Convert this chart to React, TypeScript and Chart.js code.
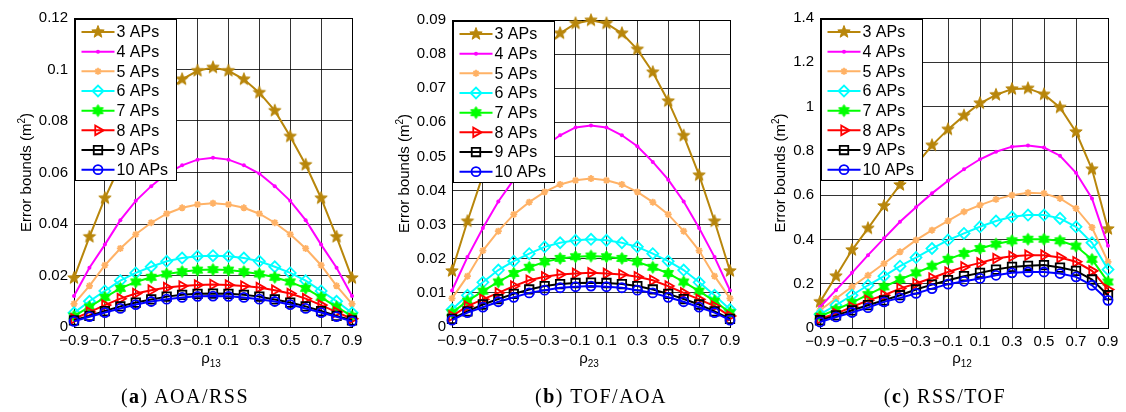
import React, { useEffect, useRef } from 'react';
import { Chart, registerables } from 'chart.js';
import { drawPoint } from 'chart.js/helpers';

Chart.register(...registerables);

// Correlation coefficient sweep (x axis) and its labelled ticks
const rho = [-0.9, -0.8, -0.7, -0.6, -0.5, -0.4, -0.3, -0.2, -0.1, 0, 0.1, 0.2, 0.3, 0.4, 0.5, 0.6, 0.7, 0.8, 0.9];
const rhoTicks = [-0.9, -0.7, -0.5, -0.3, -0.1, 0.1, 0.3, 0.5, 0.7, 0.9];
const apLabels = ['3 APs', '4 APs', '5 APs', '6 APs', '7 APs', '8 APs', '9 APs', '10 APs'];

// (a) AOA/RSS, error bounds vs rho_13
const aoaRss3 = [0.019, 0.035, 0.05, 0.063, 0.074, 0.084, 0.091, 0.0962, 0.0995, 0.1008, 0.0995, 0.0962, 0.091, 0.084, 0.074, 0.063, 0.05, 0.035, 0.019];
const aoaRss4 = [0.012, 0.023, 0.032, 0.0415, 0.049, 0.0547, 0.0596, 0.0628, 0.065, 0.0657, 0.065, 0.0628, 0.0596, 0.0547, 0.049, 0.0415, 0.032, 0.023, 0.012];
const aoaRss5 = [0.009, 0.016, 0.024, 0.0305, 0.036, 0.0405, 0.044, 0.0463, 0.0476, 0.0481, 0.0476, 0.0463, 0.044, 0.0405, 0.036, 0.0305, 0.024, 0.016, 0.009];
const aoaRss6 = [0.0055, 0.01, 0.014, 0.018, 0.021, 0.0234, 0.0255, 0.0268, 0.0275, 0.0277, 0.0275, 0.0268, 0.0255, 0.0234, 0.021, 0.018, 0.014, 0.01, 0.0055];
const aoaRss7 = [0.0042, 0.0078, 0.0115, 0.015, 0.0175, 0.0193, 0.0206, 0.0215, 0.0221, 0.0223, 0.0221, 0.0215, 0.0206, 0.0193, 0.0175, 0.015, 0.0115, 0.0078, 0.0042];
const aoaRss8 = [0.0032, 0.0058, 0.0085, 0.011, 0.013, 0.0143, 0.0153, 0.0159, 0.0163, 0.0165, 0.0163, 0.0159, 0.0153, 0.0143, 0.013, 0.011, 0.0085, 0.0058, 0.0032];
const aoaRss9 = [0.0026, 0.0043, 0.0062, 0.008, 0.0095, 0.0107, 0.0118, 0.0125, 0.0129, 0.013, 0.0129, 0.0125, 0.0118, 0.0107, 0.0095, 0.008, 0.0062, 0.0043, 0.0026];
const aoaRss10 = [0.0022, 0.004, 0.0056, 0.0072, 0.0087, 0.0099, 0.0108, 0.0115, 0.0119, 0.012, 0.0119, 0.0115, 0.0108, 0.0099, 0.0087, 0.0072, 0.0056, 0.004, 0.0022];

// (b) TOF/AOA, error bounds vs rho_23
const tofAoa3 = [0.0164, 0.031, 0.0445, 0.0561, 0.0662, 0.0747, 0.0814, 0.0861, 0.089, 0.0899, 0.089, 0.0861, 0.0814, 0.0747, 0.0662, 0.0561, 0.0445, 0.031, 0.0164];
const tofAoa4 = [0.0107, 0.0205, 0.029, 0.0368, 0.0432, 0.0484, 0.053, 0.0562, 0.0585, 0.0591, 0.0585, 0.0562, 0.053, 0.0484, 0.0432, 0.0368, 0.029, 0.0205, 0.0107];
const tofAoa5 = [0.0084, 0.0149, 0.0224, 0.0281, 0.033, 0.0366, 0.0396, 0.0418, 0.043, 0.0435, 0.043, 0.0418, 0.0396, 0.0366, 0.033, 0.0281, 0.0224, 0.0149, 0.0084];
const tofAoa6 = [0.0051, 0.0093, 0.0131, 0.0167, 0.0193, 0.0215, 0.0235, 0.0247, 0.0254, 0.0257, 0.0254, 0.0247, 0.0235, 0.0215, 0.0193, 0.0167, 0.0131, 0.0093, 0.0051];
const tofAoa7 = [0.0042, 0.0076, 0.0105, 0.0132, 0.0157, 0.0175, 0.0191, 0.0201, 0.0206, 0.0208, 0.0206, 0.0201, 0.0191, 0.0175, 0.0157, 0.0132, 0.0105, 0.0076, 0.0042];
const tofAoa8 = [0.0032, 0.0061, 0.0081, 0.01, 0.012, 0.0137, 0.0147, 0.0154, 0.0157, 0.0159, 0.0157, 0.0154, 0.0147, 0.0137, 0.012, 0.01, 0.0081, 0.0061, 0.0032];
const tofAoa9 = [0.0024, 0.0046, 0.0066, 0.0082, 0.0097, 0.011, 0.012, 0.0126, 0.0129, 0.013, 0.0129, 0.0126, 0.012, 0.011, 0.0097, 0.0082, 0.0066, 0.0046, 0.0024];
const tofAoa10 = [0.002, 0.0042, 0.0058, 0.0074, 0.0087, 0.01, 0.0108, 0.0115, 0.0118, 0.012, 0.0118, 0.0115, 0.0108, 0.01, 0.0087, 0.0074, 0.0058, 0.0042, 0.002];

// (c) RSS/TOF, error bounds vs rho_12
const rssTof3 = [0.118, 0.234, 0.352, 0.45, 0.551, 0.646, 0.737, 0.825, 0.897, 0.959, 1.015, 1.053, 1.079, 1.082, 1.055, 0.996, 0.885, 0.717, 0.447];
const rssTof4 = [0.095, 0.171, 0.249, 0.329, 0.405, 0.48, 0.545, 0.608, 0.665, 0.717, 0.762, 0.796, 0.819, 0.824, 0.815, 0.778, 0.701, 0.585, 0.371];
const rssTof5 = [0.08, 0.133, 0.186, 0.238, 0.291, 0.344, 0.397, 0.442, 0.484, 0.525, 0.555, 0.581, 0.6, 0.611, 0.608, 0.585, 0.54, 0.454, 0.299];
const rssTof6 = [0.062, 0.103, 0.148, 0.193, 0.234, 0.279, 0.318, 0.359, 0.397, 0.427, 0.457, 0.483, 0.502, 0.51, 0.51, 0.495, 0.457, 0.385, 0.264];
const rssTof7 = [0.053, 0.083, 0.115, 0.151, 0.186, 0.219, 0.249, 0.279, 0.31, 0.337, 0.359, 0.379, 0.394, 0.401, 0.401, 0.394, 0.37, 0.31, 0.208];
const rssTof8 = [0.042, 0.065, 0.095, 0.125, 0.148, 0.178, 0.201, 0.226, 0.253, 0.276, 0.294, 0.314, 0.324, 0.329, 0.329, 0.318, 0.299, 0.258, 0.174];
const rssTof9 = [0.035, 0.057, 0.08, 0.103, 0.125, 0.148, 0.174, 0.196, 0.216, 0.234, 0.249, 0.264, 0.276, 0.281, 0.284, 0.273, 0.258, 0.219, 0.148];
const rssTof10 = [0.027, 0.05, 0.07, 0.092, 0.118, 0.136, 0.156, 0.178, 0.198, 0.211, 0.224, 0.238, 0.249, 0.253, 0.253, 0.246, 0.231, 0.193, 0.125];

// Y tick values per panel
const yTicksA = [0, 0.02, 0.04, 0.06, 0.08, 0.1, 0.12];
const yTicksB = [0, 0.01, 0.02, 0.03, 0.04, 0.05, 0.06, 0.07, 0.08, 0.09];
const yTicksC = [0, 0.2, 0.4, 0.6, 0.8, 1, 1.2, 1.4];

const SANS = '"Liberation Sans", Arial, Helvetica, sans-serif';
const H = 412;
const AXIS_W = 74;

type Marker = {
  color: string;
  style: string;
  radius: number;
  border: number;
  fill: string;
  rotation?: number;
};

const markers: Marker[] = [
  { color: '#B8860B', style: 'pentagram', radius: 6.5, border: 0, fill: '#B8860B' },
  { color: '#FF00FF', style: 'circle', radius: 2, border: 0, fill: '#FF00FF' },
  { color: '#FFB266', style: 'star', radius: 3.5, border: 1.8, fill: 'transparent' },
  { color: '#00FFFF', style: 'rectRot', radius: 5.5, border: 1.8, fill: 'transparent' },
  { color: '#00FF00', style: 'hexagram', radius: 6, border: 0, fill: '#00FF00' },
  { color: '#FF0000', style: 'triangle', radius: 5.5, border: 1.8, fill: 'transparent', rotation: 90 },
  { color: '#000000', style: 'rect', radius: 6, border: 1.8, fill: 'transparent' },
  { color: '#0000FF', style: 'circle', radius: 4.5, border: 1.8, fill: 'transparent' },
];

type PanelSpec = {
  key: string;
  plotLeft: number;
  plotRight: number;
  top: number;
  bottom: number;
  rightPad: number;
  yMax: number;
  yTicks: number[];
  series: number[][];
  sub: string;
  yTitleBase: number;
  caption: string;
  captionLetter: string;
  captionX: number;
};

const panels: PanelSpec[] = [
  {
    key: 'a', plotLeft: 74, plotRight: 352, top: 18, bottom: 327, rightPad: 22,
    yMax: 0.12, yTicks: yTicksA,
    series: [aoaRss3, aoaRss4, aoaRss5, aoaRss6, aoaRss7, aoaRss8, aoaRss9, aoaRss10],
    sub: '13', yTitleBase: 31, caption: 'AOA/RSS', captionLetter: 'a', captionX: 185,
  },
  {
    key: 'b', plotLeft: 452, plotRight: 730, top: 20, bottom: 327, rightPad: 22,
    yMax: 0.09, yTicks: yTicksB,
    series: [tofAoa3, tofAoa4, tofAoa5, tofAoa6, tofAoa7, tofAoa8, tofAoa9, tofAoa10],
    sub: '23', yTitleBase: 31, caption: 'TOF/AOA', captionLetter: 'b', captionX: 601,
  },
  {
    key: 'c', plotLeft: 820, plotRight: 1108, top: 18, bottom: 328, rightPad: 18,
    yMax: 1.4, yTicks: yTicksC,
    series: [rssTof3, rssTof4, rssTof5, rssTof6, rssTof7, rssTof8, rssTof9, rssTof10],
    sub: '12', yTitleBase: 39, caption: 'RSS/TOF', captionLetter: 'c', captionX: 945,
  },
];

function starImage(points: number, outer: number, inner: number, color: string): HTMLCanvasElement {
  const size = Math.ceil(outer * 2 + 3);
  const c = document.createElement('canvas');
  c.width = size;
  c.height = size;
  const g = c.getContext('2d')!;
  const cx = size / 2;
  g.beginPath();
  for (let k = 0; k < points * 2; k++) {
    const r = k % 2 ? inner : outer;
    const a = -Math.PI / 2 + (k * Math.PI) / points;
    g.lineTo(cx + r * Math.cos(a), cx + r * Math.sin(a));
  }
  g.closePath();
  g.fillStyle = color;
  g.fill();
  g.strokeStyle = color;
  g.lineWidth = 1;
  g.stroke();
  return c;
}

function resolveStyle(m: Marker): any {
  if (m.style === 'pentagram') return starImage(5, m.radius, m.radius * 0.42, m.color);
  if (m.style === 'hexagram') return starImage(6, m.radius, m.radius * 0.6, m.color);
  return m.style;
}

const fmtRho = (v: number) => (v < 0 ? '\u2212' : '') + Math.abs(v).toFixed(1);
const fmtY = (v: number) => String(parseFloat(v.toFixed(4)));

function ErrorPanel({ p }: { p: PanelSpec }) {
  const ref = useRef<HTMLCanvasElement>(null);
  const canvasLeft = p.plotLeft - AXIS_W;
  const width = p.plotRight + p.rightPad - canvasLeft;

  useEffect(() => {
    const styles = markers.map(resolveStyle);

    const decor = {
      id: 'decor',
      beforeDatasetsDraw(chart: any) {
        const { ctx, chartArea: a } = chart;
        ctx.save();
        ctx.strokeStyle = '#000';
        ctx.lineWidth = 1;
        ctx.strokeRect(Math.round(a.left) + 0.5, Math.round(a.top) + 0.5, Math.round(a.right - a.left), Math.round(a.bottom - a.top));
        ctx.restore();
      },
      afterDatasetsDraw(chart: any) {
        const { ctx, chartArea: a } = chart;
        const bx = Math.round(a.left) + 1.5;
        const by = Math.round(a.top) + 1.5;
        const bw = 101;
        const bh = 161;
        ctx.save();
        ctx.fillStyle = '#fff';
        ctx.fillRect(bx, by, bw, bh);
        ctx.strokeStyle = '#000';
        ctx.lineWidth = 1;
        ctx.strokeRect(bx, by, bw, bh);
        apLabels.forEach((label, i) => {
          const m = markers[i];
          const y = by + 12.5 + i * 19.67;
          ctx.strokeStyle = m.color;
          ctx.lineWidth = 2;
          ctx.beginPath();
          ctx.moveTo(bx + 6, y);
          ctx.lineTo(bx + 39, y);
          ctx.stroke();
          ctx.fillStyle = m.fill;
          ctx.strokeStyle = m.color;
          ctx.lineWidth = m.border;
          drawPoint(ctx, { pointStyle: styles[i], radius: m.radius, rotation: m.rotation || 0, borderWidth: m.border } as any, bx + 22.5, y);
          ctx.fillStyle = '#000';
          ctx.font = `16px ${SANS}`;
          ctx.textAlign = 'left';
          ctx.textBaseline = 'middle';
          ctx.fillText(label, bx + 41, y + 1);
        });
        ctx.restore();
      },
      afterDraw(chart: any) {
        const { ctx, chartArea: a } = chart;
        ctx.save();
        ctx.fillStyle = '#000';
        ctx.textAlign = 'left';
        ctx.textBaseline = 'alphabetic';
        // x axis title: rho with subscript
        ctx.font = `15px ${SANS}`;
        const w1 = ctx.measureText('\u03C1').width;
        ctx.font = `10px ${SANS}`;
        const w2 = ctx.measureText(p.sub).width;
        const cx = (a.left + a.right) / 2 - 2;
        const sx = cx - (w1 + w2) / 2;
        ctx.font = `15px ${SANS}`;
        ctx.fillText('\u03C1', sx, 363);
        ctx.font = `10px ${SANS}`;
        ctx.fillText(p.sub, sx + w1, 367);
        // y axis title with superscript
        const main = 'Error bounds (m';
        ctx.font = `15px ${SANS}`;
        const m1 = ctx.measureText(main).width;
        const m3 = ctx.measureText(')').width;
        ctx.font = `10px ${SANS}`;
        const m2 = ctx.measureText('2').width;
        const total = m1 + m2 + m3;
        ctx.translate(p.yTitleBase, (a.top + a.bottom) / 2);
        ctx.rotate(-Math.PI / 2);
        const st = -total / 2;
        ctx.font = `15px ${SANS}`;
        ctx.fillText(main, st, 0);
        ctx.font = `10px ${SANS}`;
        ctx.fillText('2', st + m1, -6);
        ctx.font = `15px ${SANS}`;
        ctx.fillText(')', st + m1 + m2, 0);
        ctx.restore();
      },
    };

    const n = markers.length;
    const chart = new Chart(ref.current!, {
      type: 'line',
      data: {
        datasets: p.series.map((vals, i) => {
          const m = markers[i];
          return {
            label: apLabels[i],
            data: vals.map((v, k) => ({ x: rho[k], y: v })),
            borderColor: m.color,
            backgroundColor: m.fill,
            borderWidth: 2,
            pointStyle: styles[i],
            pointRadius: m.radius,
            pointBorderWidth: m.border,
            pointBorderColor: m.color,
            pointBackgroundColor: m.fill,
            pointRotation: m.rotation || 0,
            tension: 0,
            clip: false as any,
            order: n - 1 - i,
          };
        }),
      },
      options: {
        responsive: false,
        animation: false,
        events: [],
        devicePixelRatio: 1,
        layout: { padding: { left: 0, right: p.rightPad, top: p.top, bottom: 0 } },
        plugins: { legend: { display: false }, tooltip: { enabled: false } },
        scales: {
          x: {
            type: 'linear',
            min: -0.9,
            max: 0.9,
            afterBuildTicks: (s: any) => { s.ticks = rhoTicks.map((value) => ({ value })); },
            afterFit: (s: any) => { s.height = H - p.bottom; },
            grid: { color: 'rgba(0,0,0,0.8)', lineWidth: 1, drawTicks: false },
            border: { display: false },
            ticks: {
              padding: 5,
              color: '#000',
              autoSkip: false,
              maxRotation: 0,
              font: { family: SANS, size: 15 },
              callback: (v: any) => fmtRho(Number(v)),
            },
          },
          y: {
            type: 'linear',
            min: 0,
            max: p.yMax,
            afterBuildTicks: (s: any) => { s.ticks = p.yTicks.map((value) => ({ value })); },
            afterFit: (s: any) => { s.width = AXIS_W; },
            grid: { color: 'rgba(0,0,0,0.8)', lineWidth: 1, drawTicks: false },
            border: { display: false },
            ticks: {
              padding: 6,
              color: '#000',
              autoSkip: false,
              font: { family: SANS, size: 15 },
              callback: (v: any) => fmtY(Number(v)),
            },
          },
        },
      },
      plugins: [decor],
    } as any);
    return () => chart.destroy();
  }, [p]);

  return (
    <>
      <canvas
        ref={ref}
        width={width}
        height={H}
        style={{ position: 'absolute', left: canvasLeft, top: 0, width, height: H }}
      />
      <div
        style={{
          position: 'absolute',
          left: p.captionX,
          top: 384,
          transform: 'translateX(-50%)',
          whiteSpace: 'nowrap',
          fontFamily: '"Liberation Serif", "Times New Roman", serif',
          fontSize: 20,
          lineHeight: '24px',
          letterSpacing: '1.5px',
          color: '#000',
        }}
      >
        (<b>{p.captionLetter}</b>) {p.caption}
      </div>
    </>
  );
}

export default function App() {
  return (
    <div style={{ position: 'absolute', left: 0, top: 0, width: 1126, height: H, background: '#fff', overflow: 'hidden' }}>
      {panels.map((p) => (
        <ErrorPanel key={p.key} p={p} />
      ))}
    </div>
  );
}
